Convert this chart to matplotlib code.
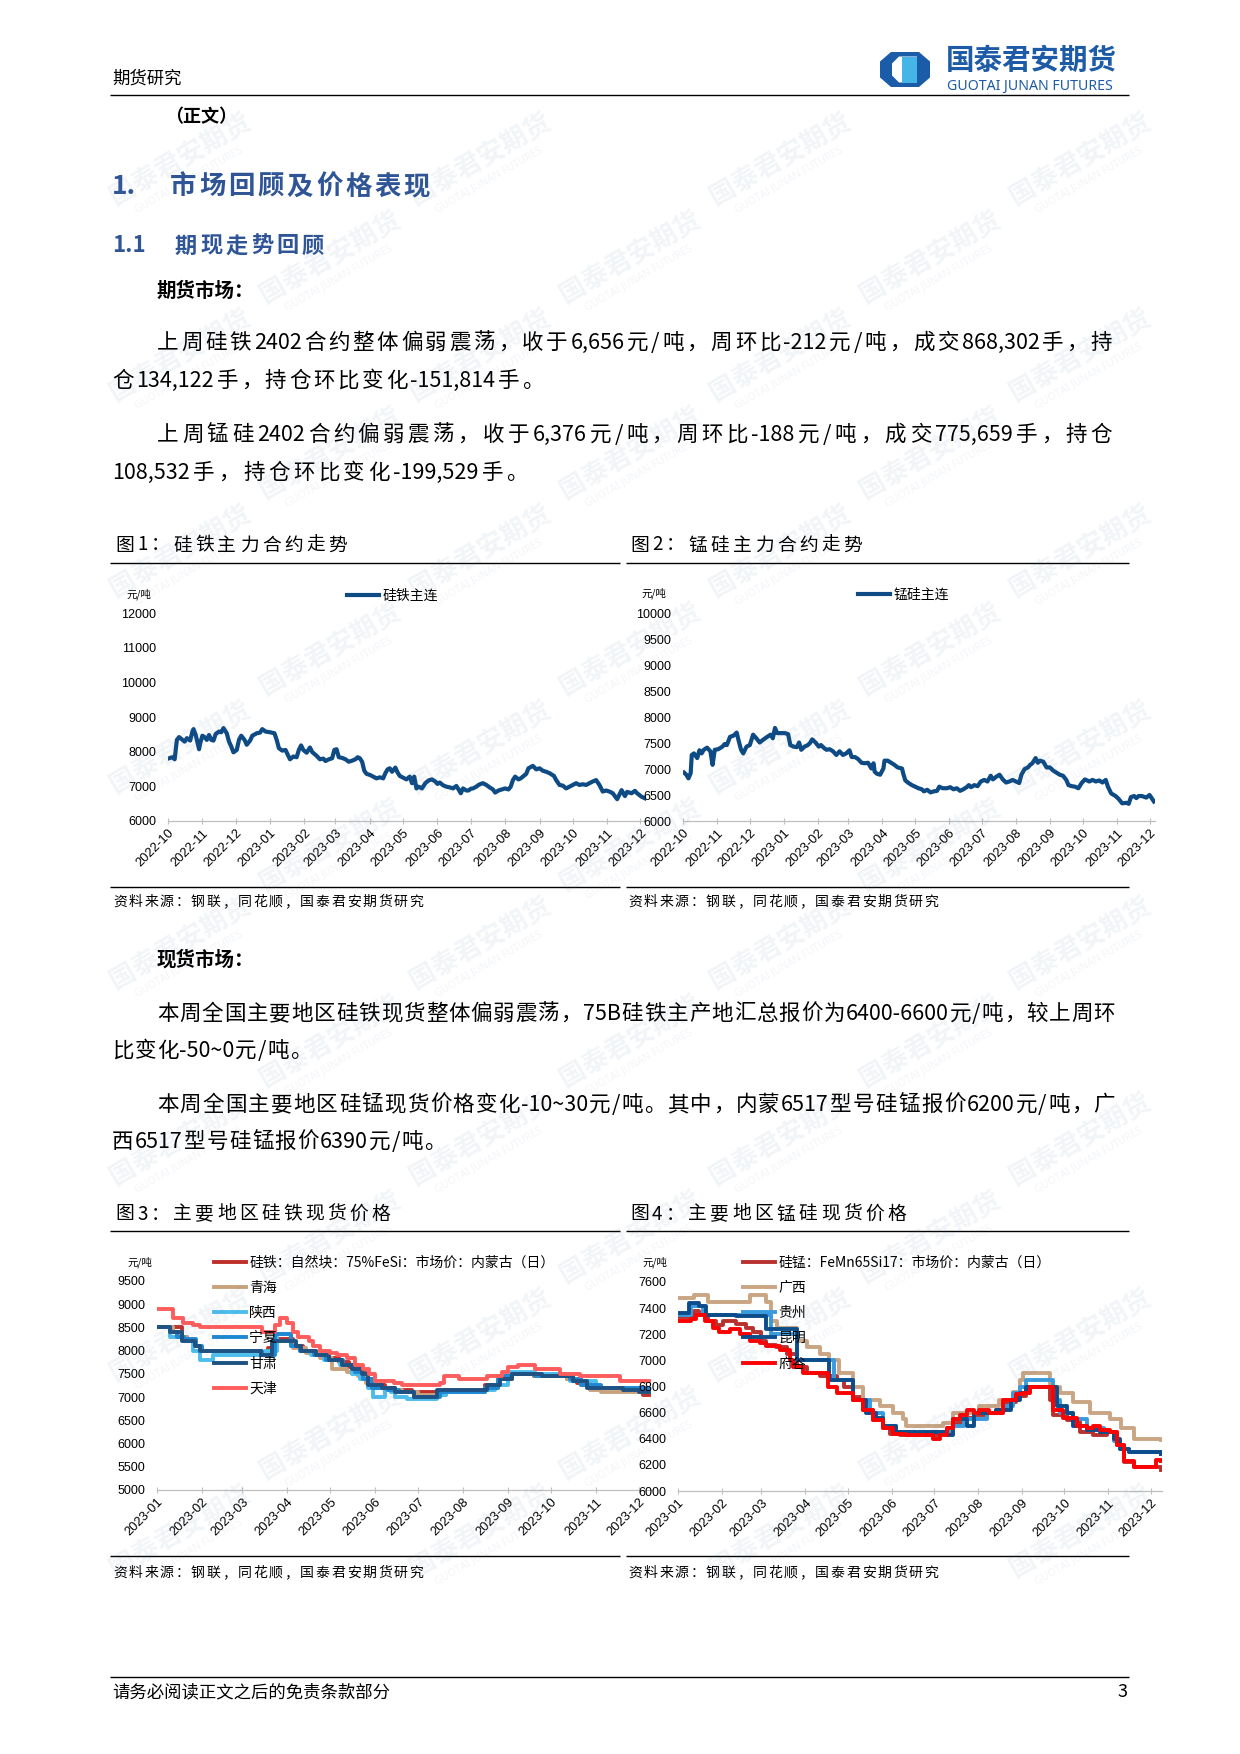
import re
import matplotlib
matplotlib.use("Agg")
import matplotlib.pyplot as plt
import matplotlib.dates as mdates
from matplotlib.patches import Polygon
import numpy as np
import pandas as pd

plt.rcParams['font.family'] = ['Noto Sans CJK SC', 'DejaVu Sans']
plt.rcParams['axes.unicode_minus'] = False

W, H = 1240, 1754

# ---------------- data ----------------
# 图1 硅铁主连
fesi_dates = [
    '2022-10-02', '2022-10-05', '2022-10-07', '2022-10-09', '2022-10-11', '2022-10-14', '2022-10-16',
    '2022-10-18', '2022-10-21', '2022-10-23', '2022-10-24', '2022-10-26', '2022-10-29', '2022-10-30',
    '2022-11-01', '2022-11-03', '2022-11-05', '2022-11-07', '2022-11-09', '2022-11-11', '2022-11-13',
    '2022-11-16', '2022-11-18', '2022-11-20', '2022-11-23', '2022-11-25', '2022-11-27', '2022-11-29',
    '2022-12-02', '2022-12-04', '2022-12-06', '2022-12-09', '2022-12-11', '2022-12-14', '2022-12-16',
    '2022-12-20', '2022-12-23', '2022-12-25', '2022-12-28', '2023-01-01', '2023-01-05', '2023-01-07',
    '2023-01-09', '2023-01-12', '2023-01-15', '2023-01-17', '2023-01-19', '2023-01-22', '2023-01-25',
    '2023-01-27', '2023-01-29', '2023-01-31', '2023-02-03', '2023-02-06', '2023-02-08', '2023-02-12',
    '2023-02-15', '2023-02-18', '2023-02-20', '2023-02-23', '2023-02-26', '2023-02-28', '2023-03-02',
    '2023-03-04', '2023-03-07', '2023-03-10', '2023-03-13', '2023-03-16', '2023-03-19', '2023-03-21',
    '2023-03-23', '2023-03-25', '2023-03-27', '2023-03-29', '2023-04-01', '2023-04-04', '2023-04-07',
    '2023-04-10', '2023-04-13', '2023-04-15', '2023-04-17', '2023-04-19', '2023-04-21', '2023-04-24',
    '2023-04-26', '2023-04-28', '2023-05-01', '2023-05-04', '2023-05-07', '2023-05-09', '2023-05-11',
    '2023-05-13', '2023-05-15', '2023-05-18', '2023-05-21', '2023-05-24', '2023-05-27', '2023-05-30',
    '2023-06-01', '2023-06-03', '2023-06-06', '2023-06-09', '2023-06-12', '2023-06-15', '2023-06-18',
    '2023-06-20', '2023-06-22', '2023-06-24', '2023-06-27', '2023-06-29', '2023-07-01', '2023-07-03',
    '2023-07-06', '2023-07-08', '2023-07-10', '2023-07-12', '2023-07-15', '2023-07-18', '2023-07-21',
    '2023-07-23', '2023-07-26', '2023-07-29', '2023-08-01', '2023-08-04', '2023-08-06', '2023-08-08',
    '2023-08-10', '2023-08-13', '2023-08-15', '2023-08-17', '2023-08-20', '2023-08-22', '2023-08-25',
    '2023-08-26', '2023-08-29', '2023-09-01', '2023-09-04', '2023-09-07', '2023-09-10', '2023-09-14',
    '2023-09-16', '2023-09-19', '2023-09-22', '2023-09-25', '2023-09-28', '2023-10-01', '2023-10-04',
    '2023-10-07', '2023-10-10', '2023-10-13', '2023-10-16', '2023-10-19', '2023-10-22', '2023-10-25',
    '2023-10-28', '2023-10-31', '2023-11-03', '2023-11-06', '2023-11-10', '2023-11-14', '2023-11-17',
    '2023-11-19', '2023-11-23', '2023-11-26', '2023-11-28', '2023-12-02', '2023-12-05']
fesi_close = [
    7810, 7840, 7780, 8340, 8420, 8340, 8290, 8390, 8320, 8580, 8650, 8480, 8070, 8240,
    8460, 8420, 8340, 8480, 8340, 8320, 8510, 8580, 8560, 8680, 8530, 8290, 8150, 7980,
    8050, 8340, 8460, 8340, 8200, 8320, 8460, 8530, 8550, 8650, 8580, 8560, 8530, 8340,
    8100, 8030, 8050, 7910, 7780, 7860, 7840, 8050, 8180, 8050, 7970, 8120, 7990, 7880,
    7780, 7800, 7730, 7780, 7810, 8050, 8070, 7840, 7820, 7780, 7710, 7740, 7780, 7840,
    7810, 7710, 7450, 7360, 7330, 7280, 7230, 7260, 7230, 7380, 7490, 7520, 7420, 7540,
    7400, 7300, 7250, 7200, 7280, 7090, 7280, 6940, 6990, 6940, 7090, 7170, 7200, 7140,
    7070, 7110, 7030, 6990, 6970, 6940, 7010, 6910, 6800, 6940, 6880, 6880, 6930, 6940,
    6990, 7040, 7070, 7090, 7040, 6970, 6910, 6820, 6880, 6910, 6940, 6910, 6990, 7180,
    7280, 7200, 7230, 7280, 7360, 7520, 7570, 7590, 7490, 7520, 7450, 7420, 7380, 7300,
    7180, 7040, 7020, 6940, 6990, 7040, 7090, 7040, 7060, 7040, 7090, 7140, 7180, 7040,
    6850, 6880, 6850, 6800, 6630, 6890, 6720, 6840, 6800, 6870, 6800, 6700, 6656]

# 图2 锰硅主连
simn_dates = [
    '2022-10-02', '2022-10-04', '2022-10-06', '2022-10-08', '2022-10-09', '2022-10-11', '2022-10-14',
    '2022-10-16', '2022-10-18', '2022-10-20', '2022-10-23', '2022-10-26', '2022-10-28', '2022-10-30',
    '2022-11-02', '2022-11-06', '2022-11-08', '2022-11-10', '2022-11-13', '2022-11-16', '2022-11-19',
    '2022-11-21', '2022-11-23', '2022-11-25', '2022-11-28', '2022-12-01', '2022-12-04', '2022-12-07',
    '2022-12-10', '2022-12-13', '2022-12-17', '2022-12-20', '2022-12-22', '2022-12-24', '2022-12-26',
    '2022-12-29', '2023-01-02', '2023-01-05', '2023-01-07', '2023-01-10', '2023-01-13', '2023-01-15',
    '2023-01-17', '2023-01-20', '2023-01-23', '2023-01-25', '2023-01-27', '2023-01-30', '2023-02-02',
    '2023-02-04', '2023-02-07', '2023-02-09', '2023-02-12', '2023-02-15', '2023-02-18', '2023-02-21',
    '2023-02-24', '2023-02-27', '2023-03-02', '2023-03-04', '2023-03-07', '2023-03-10', '2023-03-13',
    '2023-03-16', '2023-03-19', '2023-03-22', '2023-03-24', '2023-03-25', '2023-03-27', '2023-03-30',
    '2023-04-02', '2023-04-03', '2023-04-06', '2023-04-09', '2023-04-12', '2023-04-15', '2023-04-19',
    '2023-04-20', '2023-04-22', '2023-04-25', '2023-04-28', '2023-05-01', '2023-05-04', '2023-05-07',
    '2023-05-09', '2023-05-12', '2023-05-15', '2023-05-18', '2023-05-21', '2023-05-23', '2023-05-26',
    '2023-05-30', '2023-06-02', '2023-06-05', '2023-06-08', '2023-06-11', '2023-06-14', '2023-06-17',
    '2023-06-19', '2023-06-21', '2023-06-24', '2023-06-27', '2023-06-30', '2023-07-03', '2023-07-06',
    '2023-07-09', '2023-07-11', '2023-07-14', '2023-07-17', '2023-07-20', '2023-07-23', '2023-07-26',
    '2023-07-29', '2023-08-01', '2023-08-04', '2023-08-06', '2023-08-09', '2023-08-12', '2023-08-14',
    '2023-08-16', '2023-08-19', '2023-08-21', '2023-08-23', '2023-08-26', '2023-08-29', '2023-09-01',
    '2023-09-04', '2023-09-07', '2023-09-10', '2023-09-13', '2023-09-16', '2023-09-18', '2023-09-21',
    '2023-09-24', '2023-09-27', '2023-09-30', '2023-10-03', '2023-10-07', '2023-10-10', '2023-10-13',
    '2023-10-16', '2023-10-19', '2023-10-22', '2023-10-24', '2023-10-27', '2023-10-31', '2023-11-03',
    '2023-11-06', '2023-11-10', '2023-11-12', '2023-11-14', '2023-11-17', '2023-11-19', '2023-11-21',
    '2023-11-24', '2023-11-28', '2023-12-01', '2023-12-05']
simn_close = [
    6930, 6890, 6820, 6920, 7270, 7300, 7210, 7360, 7300, 7370, 7410, 7340, 7080, 7370,
    7380, 7430, 7480, 7460, 7620, 7640, 7700, 7530, 7370, 7300, 7430, 7460, 7660, 7590,
    7510, 7560, 7620, 7660, 7590, 7790, 7690, 7690, 7690, 7670, 7460, 7430, 7420, 7510,
    7370, 7430, 7460, 7500, 7570, 7510, 7430, 7460, 7400, 7370, 7380, 7340, 7270, 7340,
    7270, 7300, 7360, 7230, 7230, 7190, 7120, 7110, 7120, 7010, 7110, 6950, 6910, 6890,
    7010, 7160, 7160, 7120, 7080, 7030, 7010, 6920, 6780, 6730, 6690, 6660, 6630, 6610,
    6570, 6600, 6550, 6570, 6580, 6660, 6630, 6630, 6650, 6610, 6630, 6580, 6610, 6650,
    6690, 6650, 6690, 6670, 6760, 6790, 6760, 6870, 6800, 6850, 6890, 6800, 6740, 6760,
    6790, 6760, 6730, 6890, 7000, 7030, 7080, 7110, 7210, 7120, 7160, 7140, 7030, 7030,
    6970, 6930, 6890, 6870, 6790, 6690, 6670, 6660, 6630, 6730, 6800, 6760, 6790, 6760,
    6780, 6740, 6790, 6660, 6530, 6480, 6420, 6340, 6350, 6330, 6460, 6480, 6440, 6480,
    6480, 6450, 6500, 6376]

# 图3 主要地区硅铁现货价格 (元/吨)
nmg_fesi_dates = ['2023-01-01', '2023-01-18', '2023-01-22', '2023-01-27', '2023-01-31', '2023-03-14',
                  '2023-03-19', '2023-03-24', '2023-04-05', '2023-04-12', '2023-04-21', '2023-04-30',
                  '2023-05-07', '2023-05-14', '2023-05-21', '2023-05-25', '2023-05-30', '2023-06-08',
                  '2023-06-15', '2023-06-27', '2023-07-19', '2023-08-16', '2023-08-25', '2023-09-04',
                  '2023-09-19', '2023-10-12', '2023-10-19', '2023-10-28', '2023-11-20', '2023-12-04',
                  '2023-12-08']
nmg_fesi = [8500, 8300, 8200, 8100, 8000, 7950, 8050, 8250, 8100, 8000, 7900, 7850, 7750, 7650, 7550,
            7400, 7250, 7200, 7150, 7100, 7150, 7250, 7400, 7500, 7450, 7400, 7300, 7200, 7150, 7050, 7050]

qh_fesi_dates = ['2023-01-01', '2023-01-12', '2023-01-17', '2023-01-22', '2023-01-27', '2023-01-31',
                 '2023-03-14', '2023-03-24', '2023-04-05', '2023-04-14', '2023-04-24', '2023-05-02',
                 '2023-05-13', '2023-05-20', '2023-05-26', '2023-06-01', '2023-06-10', '2023-06-20',
                 '2023-07-01', '2023-07-20', '2023-08-16', '2023-08-25', '2023-09-04', '2023-09-20',
                 '2023-10-12', '2023-10-22', '2023-10-28', '2023-11-05', '2023-12-08']
qh_fesi = [8500, 8400, 8300, 8200, 8100, 8000, 7950, 8200, 8050, 7950, 7850, 7600, 7550, 7450, 7300,
           7200, 7150, 7100, 7050, 7150, 7200, 7400, 7500, 7450, 7400, 7250, 7150, 7100, 7100]

sx_fesi_dates = ['2023-01-01', '2023-01-10', '2023-01-20', '2023-01-26', '2023-01-31', '2023-02-09',
                 '2023-03-17', '2023-03-25', '2023-04-04', '2023-04-10', '2023-04-18', '2023-04-27',
                 '2023-05-08', '2023-05-16', '2023-05-22', '2023-05-27', '2023-05-31', '2023-06-08',
                 '2023-06-12', '2023-06-15', '2023-06-23', '2023-07-14', '2023-07-20', '2023-08-16',
                 '2023-08-23', '2023-09-01', '2023-09-20', '2023-10-14', '2023-11-01', '2023-12-08']
sx_fesi = [8500, 8300, 8200, 8000, 7800, 7900, 8000, 8350, 8100, 8000, 7900, 7800, 7700, 7500, 7400,
           7200, 7000, 7150, 7100, 7000, 6950, 7050, 7100, 7150, 7250, 7550, 7500, 7350, 7200, 7150]

nx_fesi_dates = ['2023-01-01', '2023-01-10', '2023-01-15', '2023-01-20', '2023-01-28', '2023-02-01',
                 '2023-03-15', '2023-03-24', '2023-04-04', '2023-04-10', '2023-04-20', '2023-04-28',
                 '2023-05-10', '2023-05-18', '2023-05-24', '2023-05-30', '2023-06-10', '2023-06-18',
                 '2023-06-28', '2023-07-16', '2023-08-16', '2023-08-25', '2023-09-04', '2023-09-20',
                 '2023-10-14', '2023-10-22', '2023-11-05', '2023-12-08']
nx_fesi = [8500, 8400, 8300, 8250, 8100, 8000, 7900, 8350, 8100, 8000, 7900, 7800, 7700, 7550, 7400,
           7200, 7150, 7100, 7000, 7100, 7200, 7450, 7500, 7450, 7400, 7250, 7200, 7150]

gs_fesi_dates = ['2023-01-01', '2023-01-10', '2023-01-18', '2023-01-27', '2023-01-31', '2023-03-14',
                 '2023-03-22', '2023-04-07', '2023-04-11', '2023-04-21', '2023-04-30', '2023-05-09',
                 '2023-05-16', '2023-05-23', '2023-05-27', '2023-06-06', '2023-06-15', '2023-06-28',
                 '2023-07-14', '2023-08-18', '2023-08-27', '2023-09-04', '2023-09-25', '2023-10-16',
                 '2023-10-26', '2023-11-20', '2023-12-01', '2023-12-08']
gs_fesi = [8500, 8400, 8200, 8100, 8000, 7900, 8200, 8100, 8000, 7900, 7800, 7700, 7600, 7500, 7250,
           7200, 7100, 7000, 7150, 7250, 7400, 7500, 7450, 7350, 7200, 7150, 7100, 7100]

tj_fesi_dates = ['2023-01-01', '2023-01-12', '2023-01-19', '2023-01-26', '2023-01-31', '2023-03-15',
                 '2023-03-24', '2023-03-27', '2023-04-01', '2023-04-05', '2023-04-09', '2023-04-16',
                 '2023-04-19', '2023-04-24', '2023-05-01', '2023-05-06', '2023-05-13', '2023-05-18',
                 '2023-05-24', '2023-05-28', '2023-06-01', '2023-06-14', '2023-06-20', '2023-07-16',
                 '2023-07-19', '2023-07-29', '2023-08-18', '2023-08-28', '2023-09-01', '2023-09-08',
                 '2023-09-20', '2023-10-07', '2023-10-21', '2023-11-18', '2023-12-08']
tj_fesi = [8900, 8700, 8600, 8550, 8500, 8400, 8550, 8700, 8600, 8400, 8300, 8200, 8100, 8000, 7950,
           7900, 7850, 7700, 7600, 7500, 7350, 7300, 7250, 7300, 7450, 7400, 7450, 7550, 7650, 7700,
           7600, 7500, 7450, 7350, 7350]

# 图4 主要地区锰硅现货价格 (元/吨)
nmg_simn_dates = ['2023-01-01', '2023-01-12', '2023-01-16', '2023-01-22', '2023-01-28', '2023-02-02',
                  '2023-02-11', '2023-02-18', '2023-02-23', '2023-03-01', '2023-03-04', '2023-03-11',
                  '2023-03-19', '2023-03-26', '2023-04-02', '2023-04-11', '2023-04-23', '2023-04-28',
                  '2023-05-05', '2023-05-12', '2023-05-19', '2023-05-26', '2023-05-31', '2023-06-07',
                  '2023-06-30', '2023-07-05', '2023-07-10', '2023-07-14', '2023-07-22', '2023-07-29',
                  '2023-08-07', '2023-08-14', '2023-08-21', '2023-08-28', '2023-09-04', '2023-09-18',
                  '2023-09-21', '2023-09-23', '2023-10-03', '2023-10-12', '2023-10-21', '2023-10-31',
                  '2023-11-07', '2023-11-12', '2023-11-19', '2023-12-08']
nmg_simn = [7330, 7380, 7350, 7300, 7270, 7300, 7280, 7250, 7220, 7150, 7120, 7100, 7050, 6950, 6900,
            6880, 6850, 6800, 6720, 6620, 6540, 6480, 6440, 6430, 6430, 6450, 6480, 6520, 6560, 6580,
            6600, 6620, 6680, 6730, 6800, 6800, 6700, 6580, 6540, 6450, 6430, 6450, 6350, 6220, 6180,
            6160]

gx_simn_dates = ['2023-01-01', '2023-01-12', '2023-01-22', '2023-02-21', '2023-03-04', '2023-03-08',
                 '2023-03-12', '2023-03-26', '2023-04-02', '2023-04-11', '2023-04-18', '2023-04-25',
                 '2023-05-05', '2023-05-12', '2023-05-24', '2023-06-02', '2023-06-09', '2023-06-11',
                 '2023-07-07', '2023-07-14', '2023-08-02', '2023-08-16', '2023-08-26', '2023-08-31',
                 '2023-09-02', '2023-09-21', '2023-09-28', '2023-10-07', '2023-10-19', '2023-11-02',
                 '2023-11-10', '2023-11-19', '2023-12-08']
gx_simn = [7480, 7500, 7450, 7500, 7450, 7300, 7250, 7150, 7100, 7050, 7000, 6900, 6800, 6700, 6650,
           6600, 6550, 6500, 6520, 6600, 6650, 6700, 6760, 6850, 6900, 6800, 6750, 6680, 6600, 6550,
           6480, 6400, 6390]

gz_simn_dates = ['2023-01-01', '2023-01-10', '2023-01-19', '2023-03-08', '2023-03-26', '2023-04-21',
                 '2023-05-05', '2023-05-17', '2023-05-26', '2023-06-04', '2023-07-14', '2023-07-22',
                 '2023-08-07', '2023-08-19', '2023-08-26', '2023-08-31', '2023-09-04', '2023-09-23',
                 '2023-09-28', '2023-10-07', '2023-10-17', '2023-10-29', '2023-11-05', '2023-11-09',
                 '2023-11-16', '2023-12-08']
gz_simn = [7350, 7420, 7350, 7200, 7000, 6850, 6700, 6600, 6500, 6450, 6500, 6550, 6600, 6650, 6750,
           6800, 6850, 6700, 6600, 6550, 6480, 6450, 6380, 6320, 6300, 6280]

km_simn_dates = ['2023-01-01', '2023-01-09', '2023-01-16', '2023-01-21', '2023-02-11', '2023-03-04',
                 '2023-03-26', '2023-04-18', '2023-05-05', '2023-05-14', '2023-05-21', '2023-05-26',
                 '2023-06-04', '2023-07-10', '2023-07-14', '2023-07-24', '2023-07-29', '2023-08-14',
                 '2023-08-24', '2023-08-31', '2023-09-04', '2023-09-21', '2023-09-26', '2023-10-03',
                 '2023-10-07', '2023-10-17', '2023-10-26', '2023-11-05', '2023-11-09', '2023-11-16',
                 '2023-12-08']
km_simn = [7360, 7440, 7420, 7350, 7340, 7240, 7000, 6850, 6700, 6600, 6560, 6500, 6450, 6430, 6550,
           6500, 6600, 6620, 6700, 6750, 6800, 6800, 6650, 6600, 6500, 6470, 6450, 6400, 6320, 6300,
           6280]

fg_simn_dates = ['2023-01-01', '2023-01-10', '2023-01-14', '2023-01-20', '2023-01-26', '2023-01-30',
                 '2023-02-07', '2023-02-14', '2023-02-21', '2023-02-28', '2023-03-04', '2023-03-14',
                 '2023-03-21', '2023-03-23', '2023-03-30', '2023-04-11', '2023-04-17', '2023-04-23',
                 '2023-04-30', '2023-05-05', '2023-05-12', '2023-05-19', '2023-05-26', '2023-06-02',
                 '2023-06-11', '2023-06-21', '2023-06-30', '2023-07-05', '2023-07-10', '2023-07-14',
                 '2023-07-19', '2023-07-24', '2023-07-29', '2023-08-02', '2023-08-09', '2023-08-19',
                 '2023-08-28', '2023-09-02', '2023-09-07', '2023-09-18', '2023-09-23', '2023-09-30',
                 '2023-10-10', '2023-10-17', '2023-10-21', '2023-10-26', '2023-11-02', '2023-11-07',
                 '2023-11-12', '2023-11-19', '2023-12-01', '2023-12-05', '2023-12-08']
fg_simn = [7300, 7320, 7350, 7300, 7250, 7220, 7240, 7200, 7150, 7130, 7110, 7080, 7000, 6950, 6900,
           6900, 6800, 6750, 6750, 6700, 6620, 6540, 6480, 6440, 6430, 6430, 6400, 6430, 6480, 6550,
           6580, 6620, 6600, 6620, 6600, 6700, 6740, 6750, 6800, 6800, 6620, 6560, 6500, 6480, 6500,
           6470, 6450, 6350, 6230, 6180, 6180, 6240, 6230]

fesi_spot_labels = ['硅铁：自然块：75%FeSi：市场价：内蒙古（日）', '青海', '陕西', '宁夏', '甘肃', '天津']
fesi_spot_colors = ['#c0302b', '#c9a27c', '#4dbdec', '#1f88d2', '#1f5283', '#ff5c5c']
simn_spot_labels = ['硅锰：FeMn65Si17：市场价：内蒙古（日）', '广西', '贵州', '昆明', '府谷']
simn_spot_colors = ['#b8312e', '#c9a583', '#3a9ade', '#0c4c8a', '#ff0000']

para_lines = [
    '上周硅铁 2402 合约整体偏弱震荡，收于 6,656 元/吨，周环比-212 元/吨，成交 868,302 手，持',
    '仓 134,122 手，持仓环比变化-151,814 手。',
    '上周锰硅 2402 合约偏弱震荡，收于 6,376 元/吨，周环比-188 元/吨，成交 775,659 手，持仓',
    '108,532 手，持仓环比变化-199,529 手。',
    '本周全国主要地区硅铁现货整体偏弱震荡，75B 硅铁主产地汇总报价为 6400-6600 元/吨，较上周环',
    '比变化-50~0 元/吨。',
    '本周全国主要地区硅锰现货价格变化-10~30 元/吨。其中，内蒙 6517 型号硅锰报价 6200 元/吨，广',
    '西 6517 型号硅锰报价 6390 元/吨。',
]

# ---------------- page ----------------
fig = plt.figure(figsize=(W / 100, H / 100), dpi=100)
fig.patch.set_facecolor('white')
ov = fig.add_axes([0, 0, 1, 1])
ov.set_xlim(0, W)
ov.set_ylim(H, 0)
ov.axis('off')
renderer = fig.canvas.get_renderer()

BLUE = '#2f5597'


def spread(x0, y, s, x1=None, size=15.5, gap=None, **kw):
    """place a line token by token, stretched to x1 if given"""
    tokens = re.findall(r'[0-9A-Za-z,.\-~/%]+|\S', s)
    ws = []
    for t in tokens:
        tt = ov.text(0, 0, t, fontsize=size, **kw)
        ws.append(tt.get_window_extent(renderer).width)
        tt.remove()
    if gap is None:
        gap = ((x1 - x0) - sum(ws)) / (len(tokens) - 1)
    x = x0
    for t, w in zip(tokens, ws):
        ov.text(x, y, t, fontsize=size, va='center', ha='left', **kw)
        x += w + gap
    return gap


def hline(y, x0, x1, lw=1.0):
    ov.plot([x0, x1], [y, y], color='black', lw=lw, solid_capstyle='butt')


# header
ov.text(112, 79, '期货研究', fontsize=12.5, va='center')
hline(95, 110, 1129)
cx, cy = 905, 69.5
ov.add_patch(Polygon([(cx - 25, cy - 8), (cx - 14, cy - 17.5), (cx + 14, cy - 17.5), (cx + 25, cy - 8),
                      (cx + 25, cy + 8), (cx + 14, cy + 17.5), (cx - 14, cy + 17.5), (cx - 25, cy + 8)],
                     closed=True, color='#1a5ca8', lw=0))
ov.add_patch(Polygon([(cx - 13, cy - 6), (cx - 6, cy - 13), (cx + 12, cy - 13), (cx + 12, cy + 13),
                      (cx - 6, cy + 13), (cx - 13, cy + 6)], closed=True, color='white', lw=0))
ov.add_patch(Polygon([(cx - 3, cy - 13), (cx + 12, cy - 13), (cx + 12, cy + 13), (cx - 3, cy + 13)],
                     closed=True, color='#45b4e6', lw=0))
ov.text(946, 61, '国泰君安期货', fontsize=20.5, fontweight='bold', color='#1d5ba6', va='center')
ov.text(947, 86, 'GUOTAI JUNAN FUTURES', fontsize=10.2, fontweight='bold', color='#1d5ba6',
        va='center', family=['Noto Sans', 'DejaVu Sans'])

ov.text(165, 117, '（正文）', fontsize=13, fontweight='bold', va='center')

ov.text(112, 187, '1.', fontsize=19, fontweight='bold', color=BLUE, va='center')
spread(170, 187, '市场回顾及价格表现', 430, size=19, fontweight='bold', color=BLUE)
ov.text(112, 246, '1.1', fontsize=16, fontweight='bold', color=BLUE, va='center')
spread(175, 246, '期现走势回顾', 324, size=16, fontweight='bold', color=BLUE)

ov.text(157, 291, '期货市场：', fontsize=14, fontweight='bold', va='center')
g = spread(157, 343, para_lines[0], 1112)
spread(112, 381, para_lines[1], gap=g)
g = spread(157, 435, para_lines[2], 1112)
spread(112, 473, para_lines[3], gap=g)

ov.text(157, 960, '现货市场：', fontsize=14, fontweight='bold', va='center')
g = spread(157, 1014, para_lines[4], 1115)
spread(112, 1051, para_lines[5], gap=g)
g = spread(157, 1105, para_lines[6], 1115)
spread(112, 1142, para_lines[7], gap=g)

# figure titles, rules, sources
spread(115, 545, '图 1：硅铁主力合约走势', 347, size=13.5)
spread(630, 545, '图 2：锰硅主力合约走势', 862, size=13.5)
spread(115, 1214, '图 3：主要地区硅铁现货价格', 390, size=13.5)
spread(630, 1214, '图 4：主要地区锰硅现货价格', 906, size=13.5)
for y in (563, 887, 1231, 1556):
    hline(y, 110, 620)
    hline(y, 626, 1129)
src = '资料来源：钢联，同花顺，国泰君安期货研究'
spread(113, 902, src, 423, size=10)
spread(628, 902, src, 938, size=10)
spread(113, 1573, src, 423, size=10)
spread(628, 1573, src, 938, size=10)

# footer
hline(1677, 110, 1129)
ov.text(112, 1692, '请务必阅读正文之后的免责条款部分', fontsize=12.5, va='center')
ov.text(1127, 1692, '3', fontsize=13, va='center', ha='right')


# ---------------- charts ----------------
def chart_axes(x0, x1, top, bottom, ylim, ystep, xlim):
    ax = fig.add_axes([x0 / W, 1 - bottom / H, (x1 - x0) / W, (bottom - top) / H])
    ax.set_facecolor('none')
    for s in ('top', 'right', 'left'):
        ax.spines[s].set_visible(False)
    ax.spines['bottom'].set_color('#bfbfbf')
    ax.spines['bottom'].set_linewidth(0.9)
    ax.set_ylim(*ylim)
    ax.set_yticks(np.arange(ylim[0], ylim[1] + 1, ystep))
    ax.set_xlim(pd.Timestamp(xlim[0]), pd.Timestamp(xlim[1]))
    ax.xaxis.set_major_locator(mdates.MonthLocator())
    ax.xaxis.set_major_formatter(mdates.DateFormatter('%Y-%m'))
    ax.tick_params(axis='y', length=0, pad=8.5, labelsize=9, labelfontfamily='Liberation Sans')
    ax.tick_params(axis='x', direction='inout', length=5, color='#bfbfbf', labelsize=9.3, pad=2,
                   labelfontfamily='Liberation Sans')
    plt.setp(ax.get_xticklabels(), rotation=45, ha='right', rotation_mode='anchor')
    return ax


def unit(x, y):
    ov.text(x, y, '元/吨', fontsize=7.5, va='center', ha='center')


def legend(ax, x, y, loc='center left', spacing=0.4):
    ax.legend(loc=loc, bbox_to_anchor=(x / W, 1 - y / H), bbox_transform=fig.transFigure,
              frameon=False, fontsize=10, handlelength=2.3, handletextpad=0.25,
              borderpad=0, borderaxespad=0, labelspacing=spacing)


ax1 = chart_axes(168, 646, 613, 821, (6000, 12000), 1000, ('2022-10-01', '2023-12-06'))
ax1.plot(pd.to_datetime(fesi_dates), fesi_close, color='#0e4a84', lw=3.0, label='硅铁主连')
legend(ax1, 347, 596)
unit(139, 594)

ax3 = chart_axes(157, 652, 1281, 1490, (5000, 9500), 500, ('2023-01-01', '2023-12-10'))
fesi_spot = [(nmg_fesi_dates, nmg_fesi), (qh_fesi_dates, qh_fesi), (sx_fesi_dates, sx_fesi),
             (nx_fesi_dates, nx_fesi), (gs_fesi_dates, gs_fesi), (tj_fesi_dates, tj_fesi)]
for (d, v), lab, c in zip(fesi_spot, fesi_spot_labels, fesi_spot_colors):
    ax3.plot(pd.to_datetime(d), v, drawstyle='steps-post', color=c, lw=2.8, label=lab)
legend(ax3, 214, 1256, loc='upper left', spacing=0.8)
unit(140, 1262)

ax2 = chart_axes(683, 1155, 613, 821, (6000, 10000), 500, ('2022-10-01', '2023-12-06'))
ax2.plot(pd.to_datetime(simn_dates), simn_close, color='#0e4a84', lw=3.0, label='锰硅主连')
legend(ax2, 858, 595)
unit(654, 593)

ax4 = chart_axes(678, 1162, 1282, 1491, (6000, 7600), 200, ('2023-01-01', '2023-12-09'))
simn_spot = [(nmg_simn_dates, nmg_simn), (gx_simn_dates, gx_simn), (gz_simn_dates, gz_simn),
             (km_simn_dates, km_simn), (fg_simn_dates, fg_simn)]
for (d, v), lab, c in zip(simn_spot, simn_spot_labels, simn_spot_colors):
    ax4.plot(pd.to_datetime(d), v, drawstyle='steps-post', color=c, lw=2.8, label=lab)
legend(ax4, 743, 1256, loc='upper left', spacing=0.8)
unit(655, 1262)

# ---------------- watermark ----------------
wm = fig.add_axes([0, 0, 1, 1], zorder=10)
wm.set_xlim(0, W)
wm.set_ylim(H, 0)
wm.axis('off')
wm.set_facecolor('none')
for j in range(16):
    for i in range(4):
        x = 180 + 300 * i + 150 * (j % 2)
        y = 160 + 98 * j
        if x > 1110 or y > 1620:
            continue
        wm.text(x, y, '国泰君安期货', rotation=30, fontsize=19, fontweight='bold', color='#5b7fa8',
                alpha=0.08, ha='center', va='center')
        wm.text(x + 9, y + 20, 'GUOTAI JUNAN FUTURES', rotation=30, fontsize=7.5, color='#5b7fa8',
                alpha=0.08, ha='center', va='center', family=['Noto Sans', 'DejaVu Sans'])

fig.savefig('out.png', dpi=100, facecolor='white')
